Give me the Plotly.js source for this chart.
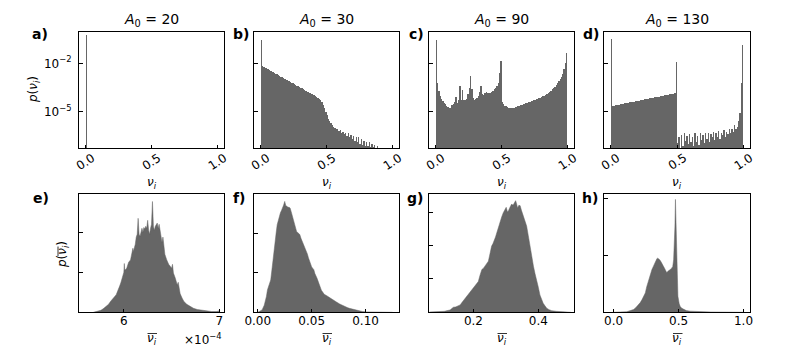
<!DOCTYPE html>
<html>
<head>
<meta charset="utf-8">
<script src="https://cdn.plot.ly/plotly-3.0.1.min.js"></script>
<style>html,body{margin:0;padding:0;background:#fff}</style>
</head>
<body>
<div id="plot" style="width:789px;height:351px"></div>
<script>
// Top row: histograms of nu_i, 100 bins on [0, 1], values are log10 p (null = empty bin)
const topBinWidth = 0.01;
const aLog = [-0.24];
const bLog = [
  -0.55, -2.17, -2.22, -2.26, -2.31, -2.36, -2.40, -2.45, -2.50, -2.54,
  -2.59, -2.64, -2.68, -2.73, -2.78, -2.82, -2.87, -2.91, -2.96, -3.01,
  -3.05, -3.10, -3.15, -3.19, -3.24, -3.29, -3.33, -3.38, -3.42, -3.47,
  -3.52, -3.56, -3.61, -3.66, -3.70, -3.75, -3.80, -3.84, -3.89, -3.93,
  -3.98, -4.03, -4.07, -4.12, -4.19, -4.28, -4.40, -4.58, -4.80, -5.02,
  -5.20, -5.45, -5.58, -5.72, -5.85, -5.92, -6.00, -6.05, -6.10, -6.20,
  -6.15, -6.30, -6.25, -6.40, -6.30, -6.50, -6.35, -6.60, -6.45, -6.70,
  -6.50, -6.80, -6.55, -6.90, -6.60, -7.00, -6.70, -7.05, -6.80, -7.10,
  -6.85, -7.15, -6.90, -7.20, -7.00, -7.20, -7.05, null, -7.15, null,
  null, null, null, null, null, null, null, null, null, null
];
const cLog = [
  -0.55, -3.20, -3.70, -4.00, -4.20, -4.35, -4.45, -4.55, -4.62, -4.70,
  -4.78, -4.75, -4.60, -4.50, -4.40, -4.07, -4.45, -4.30, -3.41, -4.30,
  -3.66, -4.30, -4.25, -4.20, -3.90, -3.50, -2.79, -3.60, -4.15, -4.25,
  -4.20, -4.15, -4.00, -3.80, -3.41, -3.90, -3.95, -3.85, -3.76, -3.85,
  -3.82, -3.86, -3.80, -3.70, -3.60, -3.50, -3.40, -3.25, -2.60, -1.86,
  -4.40, -4.55, -4.62, -4.67, -4.71, -4.74, -4.77, -4.79, -4.77, -4.75,
  -4.72, -4.70, -4.67, -4.64, -4.61, -4.58, -4.55, -4.50, -4.48, -4.45,
  -4.42, -4.39, -4.36, -4.33, -4.30, -4.27, -4.24, -4.20, -4.17, -4.13,
  -4.09, -4.05, -4.00, -3.95, -3.90, -3.84, -3.78, -3.70, -3.62, -3.54,
  -3.45, -3.35, -3.24, -3.12, -3.00, -2.85, -2.65, -2.35, -2.00, -1.38
];
const dLog = [
  -0.51, -4.64, -4.62, -4.61, -4.59, -4.57, -4.56, -4.54, -4.52, -4.51,
  -4.49, -4.47, -4.46, -4.44, -4.42, -4.41, -4.39, -4.37, -4.36, -4.34,
  -4.32, -4.31, -4.29, -4.27, -4.26, -4.24, -4.22, -4.21, -4.19, -4.17,
  -4.16, -4.14, -4.12, -4.11, -4.09, -4.07, -4.06, -4.04, -4.02, -4.01,
  -3.99, -3.97, -3.96, -3.94, -3.92, -3.91, -3.89, -3.88, -3.86, -1.90,
  -6.95, -6.60, null, -6.45, -7.10, -6.35, -6.80, -6.50, -7.00, -6.40,
  -6.90, -6.55, -7.15, -6.30, -6.85, -6.50, -7.05, -6.30, -6.75, -6.45,
  -6.95, -6.35, -6.70, -6.30, -6.85, -6.40, -6.60, -6.25, -6.75, -6.35,
  -6.55, -6.20, -6.70, -6.30, -6.45, -6.15, -6.60, -6.25, -6.40, -6.10,
  -6.30, -6.05, -6.25, -5.85, -6.10, -5.95, -5.60, -5.05, -3.20, -0.86
];

// Bottom row: histograms of the mean nu_i (x, p)
const eX = [5.68, 5.72, 5.76, 5.79, 5.82, 5.84, 5.86, 5.88, 5.90, 5.92, 5.93, 5.95, 5.96, 5.97, 5.98, 5.99, 6.00, 6.005, 6.01, 6.03, 6.05, 6.07, 6.08, 6.09, 6.095, 6.10, 6.12, 6.13, 6.14, 6.15, 6.16, 6.17, 6.18, 6.19, 6.20, 6.21, 6.22, 6.23, 6.24, 6.25, 6.26, 6.27, 6.28, 6.29, 6.30, 6.31, 6.32, 6.33, 6.35, 6.36, 6.37, 6.38, 6.39, 6.40, 6.41, 6.42, 6.43, 6.45, 6.47, 6.49, 6.50, 6.51, 6.52, 6.54, 6.56, 6.57, 6.58, 6.59, 6.61, 6.63, 6.66, 6.70, 6.73, 6.77, 6.82, 6.87, 6.92, 6.98, 6.99, 7.00];
const eY = [0, 0.02, 0.05, 0.10, 0.16, 0.20, 0.27, 0.33, 0.38, 0.44, 0.50, 0.60, 0.68, 0.75, 0.85, 0.95, 1.00, 1.22, 1.05, 1.10, 1.25, 1.31, 1.40, 1.50, 1.60, 1.52, 1.70, 1.88, 1.95, 2.35, 1.95, 1.90, 2.05, 2.10, 2.00, 2.12, 2.08, 2.15, 2.10, 2.30, 2.05, 1.95, 2.10, 2.20, 2.77, 2.15, 2.05, 2.15, 2.23, 2.10, 2.20, 2.00, 1.95, 1.75, 1.88, 1.56, 1.45, 1.31, 1.20, 1.14, 1.10, 1.20, 0.98, 0.85, 0.68, 0.75, 0.55, 0.47, 0.36, 0.27, 0.20, 0.14, 0.10, 0.07, 0.05, 0.03, 0.02, 0.02, 0.04, 0];

const fX = [0.000, 0.002, 0.004, 0.006, 0.007, 0.008, 0.009, 0.010, 0.011, 0.012, 0.013, 0.014, 0.015, 0.016, 0.017, 0.018, 0.019, 0.020, 0.021, 0.022, 0.023, 0.024, 0.025, 0.026, 0.027, 0.028, 0.029, 0.030, 0.031, 0.032, 0.033, 0.034, 0.035, 0.036, 0.037, 0.038, 0.039, 0.040, 0.041, 0.042, 0.043, 0.044, 0.045, 0.046, 0.047, 0.048, 0.049, 0.050, 0.052, 0.053, 0.055, 0.056, 0.058, 0.059, 0.061, 0.062, 0.064, 0.066, 0.067, 0.069, 0.071, 0.073, 0.076, 0.078, 0.081, 0.083, 0.085, 0.088, 0.090, 0.092, 0.094, 0.097, 0.101, 0.106, 0.110, 0.125];
const fY = [0, 0.2, 0.6, 1.8, 2.7, 4.0, 5.7, 6.6, 7.5, 8.2, 10.5, 13.3, 15.5, 17.5, 20.0, 22.2, 23.5, 24.5, 25.2, 25.8, 26.4, 27.2, 28.1, 27.0, 26.9, 26.6, 26.6, 26.4, 25.5, 24.5, 23.5, 22.5, 21.2, 20.5, 20.2, 19.9, 19.7, 18.8, 18.2, 17.5, 16.8, 16.2, 15.4, 14.8, 13.8, 12.9, 12.2, 11.5, 10.8, 9.8, 8.6, 7.8, 6.5, 5.6, 4.8, 4.5, 4.2, 3.8, 3.6, 3.3, 3.0, 2.6, 2.1, 1.8, 1.4, 1.2, 1.0, 0.8, 0.6, 0.45, 0.3, 0.2, 0.1, 0.05, 0, 0];

const gX = [0.065, 0.090, 0.110, 0.128, 0.133, 0.138, 0.145, 0.152, 0.159, 0.165, 0.170, 0.174, 0.180, 0.185, 0.190, 0.195, 0.200, 0.205, 0.210, 0.215, 0.220, 0.226, 0.231, 0.236, 0.241, 0.246, 0.251, 0.256, 0.260, 0.264, 0.268, 0.272, 0.277, 0.282, 0.287, 0.292, 0.297, 0.301, 0.305, 0.308, 0.313, 0.318, 0.322, 0.326, 0.330, 0.333, 0.336, 0.340, 0.344, 0.348, 0.354, 0.359, 0.364, 0.369, 0.374, 0.380, 0.385, 0.390, 0.395, 0.400, 0.405, 0.410, 0.415, 0.420, 0.426, 0.433, 0.441, 0.455, 0.467, 0.490, 0.500];
const gY = [0.02, 0.04, 0.06, 0.14, 0.24, 0.30, 0.32, 0.40, 0.44, 0.60, 0.72, 0.84, 1.00, 1.10, 1.24, 1.32, 1.44, 1.56, 1.70, 1.84, 2.20, 2.56, 2.64, 2.76, 2.90, 3.06, 3.50, 3.96, 4.10, 4.26, 4.50, 4.76, 5.10, 5.46, 5.70, 5.96, 6.10, 6.28, 6.00, 6.08, 6.30, 6.48, 6.40, 6.60, 6.68, 6.50, 6.24, 6.40, 6.38, 6.10, 5.76, 5.50, 5.16, 4.60, 3.96, 3.30, 2.76, 2.30, 1.94, 1.50, 1.04, 0.76, 0.54, 0.40, 0.24, 0.16, 0.10, 0.06, 0.04, 0.02, 0];

const hX = [0.000, 0.050, 0.100, 0.130, 0.154, 0.170, 0.190, 0.205, 0.218, 0.230, 0.244, 0.255, 0.270, 0.280, 0.295, 0.305, 0.313, 0.323, 0.333, 0.340, 0.346, 0.355, 0.364, 0.375, 0.385, 0.395, 0.403, 0.410, 0.418, 0.427, 0.436, 0.445, 0.455, 0.462, 0.468, 0.472, 0.476, 0.480, 0.485, 0.490, 0.495, 0.505, 0.513, 0.525, 0.538, 0.560, 0.590, 0.650, 0.750, 1.000];
const hY = [0, 0.025, 0.05, 0.15, 0.25, 0.40, 0.65, 0.85, 1.10, 1.40, 1.70, 2.25, 2.85, 3.25, 3.75, 4.00, 4.20, 4.50, 4.70, 4.75, 4.70, 4.60, 4.45, 4.25, 4.05, 3.80, 3.60, 3.50, 3.60, 3.65, 3.75, 3.85, 4.00, 4.60, 6.00, 7.50, 9.90, 8.00, 5.50, 2.50, 1.40, 0.75, 0.50, 0.35, 0.25, 0.15, 0.10, 0.05, 0.025, 0];

const titles = ['20', '30', '90', '130'];
const panelLetters = [['a)', 'b)', 'c)', 'd)'], ['e)', 'f)', 'g)', 'h)']];

const W = 789, H = 351;
const grey = 'rgb(102,102,102)';
const font = 'DejaVu Sans';
const px = (v) => v / W;
const py = (v) => 1 - v / H;

const colsPx = [[79, 224], [254, 399], [429, 574], [604, 750]];
const rowTop = [py(148.3), py(31.7)];
const rowBottom = [py(312.3), py(194.3)];

function baseAxis(domain, anchor) {
  return {
    domain: domain, anchor: anchor,
    showline: true, mirror: true, linecolor: 'black', linewidth: 1,
    ticks: 'inside', ticklen: 3.5, tickwidth: 1, tickcolor: 'black',
    showgrid: false, zeroline: false,
    tickfont: { family: font, size: 12, color: 'black' }
  };
}

const toP = (v) => (v === null ? null : Math.pow(10, v));
const topLogs = [aLog, bLog, cLog, dLog];
const traces = [];
const layout = {
  width: W, height: H,
  margin: { l: 0, r: 0, t: 0, b: 0 },
  paper_bgcolor: 'white', plot_bgcolor: 'white',
  showlegend: false, bargap: 0,
  annotations: [], shapes: []
};

// top row
topLogs.forEach((logs, i) => {
  const n = i + 1;
  const sfx = n === 1 ? '' : String(n);
  const xs = logs.map((_, k) => (k + 0.5) * topBinWidth);
  traces.push({
    type: 'bar', x: xs, y: logs.map(toP), width: topBinWidth,
    marker: { color: grey, line: { width: 0 } },
    xaxis: 'x' + sfx, yaxis: 'y' + sfx, hoverinfo: 'skip'
  });
  const xa = baseAxis([px(colsPx[i][0]), px(colsPx[i][1])], 'y' + sfx);
  xa.range = [-0.05, 1.05];
  xa.tickvals = [0, 0.5, 1];
  xa.showticklabels = false;
  const ya = baseAxis([rowTop[0], rowTop[1]], 'x' + sfx);
  ya.type = 'log';
  ya.range = [-7.27, -0.04];
  ya.tickvals = [1e-2, 1e-5];
  ya.ticktext = ['10<sup>\u22122</sup>', '10<sup>\u22125</sup>'];
  ya.showticklabels = (i === 0);
  ya.ticklabelstandoff = 4;
  layout['xaxis' + sfx] = xa;
  layout['yaxis' + sfx] = ya;

  // rotated tick labels
  ['0.0', '0.5', '1.0'].forEach((t, j) => {
    layout.annotations.push({
      xref: 'x' + sfx, yref: 'paper',
      x: [0, 0.5, 1][j], y: py(162), text: t, showarrow: false,
      textangle: -33, xanchor: 'center', yanchor: 'middle',
      font: { family: font, size: 12, color: 'black' }
    });
  });
  // panel title
  layout.annotations.push({
    xref: 'paper', yref: 'paper', x: px((colsPx[i][0] + colsPx[i][1]) / 2), y: py(20),
    text: '<i>A</i><sub>0</sub> = ' + titles[i], showarrow: false,
    xanchor: 'center', yanchor: 'middle', font: { family: font, size: 14, color: 'black' }
  });
  // x title
  layout.annotations.push({
    xref: 'paper', yref: 'paper', x: px((colsPx[i][0] + colsPx[i][1]) / 2), y: py(183),
    text: '<i>\u03bd<sub>i</sub></i>', showarrow: false,
    xanchor: 'center', yanchor: 'middle', font: { family: font, size: 12, color: 'black' }
  });
});

// bottom row
const botX = [eX, fX, gX, hX];
const botY = [eY, fY, gY, hY];
const botRanges = [[5.53, 7.05], [-0.0035, 0.131], [0.063, 0.51], [-0.074, 1.05]];
const botYRanges = [[0, 2.95], [0, 29.9], [0, 7.06], [0, 10.35]];
const botTicks = [[6, 7], [0, 0.05, 0.1], [0.2, 0.4], [0, 0.5, 1]];
const botTickText = [['6', '7'], ['0.00', '0.05', '0.10'], ['0.2', '0.4'], ['0.0', '0.5', '1.0']];
const botYTicks = [[1, 2], [10, 20], [2, 4, 6], [5, 10]];

for (let i = 0; i < 4; i++) {
  const n = i + 5;
  traces.push({
    type: 'scatter', mode: 'lines', x: botX[i], y: botY[i],
    fill: 'tozeroy', fillcolor: grey, line: { color: grey, width: 0.5 },
    xaxis: 'x' + n, yaxis: 'y' + n, hoverinfo: 'skip'
  });
  const xa = baseAxis([px(colsPx[i][0]), px(colsPx[i][1])], 'y' + n);
  xa.range = botRanges[i];
  xa.tickvals = botTicks[i];
  xa.ticktext = botTickText[i];
  xa.ticklabelstandoff = -3;
  const ya = baseAxis([rowBottom[0], rowBottom[1]], 'x' + n);
  ya.range = botYRanges[i];
  ya.tickvals = botYTicks[i];
  ya.showticklabels = false;
  layout['xaxis' + n] = xa;
  layout['yaxis' + n] = ya;

  // x title with an overline over nu_i
  const cx = (colsPx[i][0] + colsPx[i][1]) / 2;
  layout.annotations.push({
    xref: 'paper', yref: 'paper', x: px(cx), y: py(338.5),
    text: '<i>\u03bd<sub>i</sub></i>', showarrow: false,
    xanchor: 'center', yanchor: 'middle', font: { family: font, size: 12, color: 'black' }
  });
  layout.shapes.push({
    type: 'line', xref: 'paper', yref: 'paper',
    x0: px(cx - 4), x1: px(cx + 5.5), y0: py(333.5), y1: py(333.5),
    line: { color: 'black', width: 0.8 }
  });
}

// offset text for panel e
layout.annotations.push({
  xref: 'paper', yref: 'paper', x: px(224), y: py(339), text: '\u00d710<sup>\u22124</sup>',
  showarrow: false, xanchor: 'right', yanchor: 'middle', font: { family: font, size: 12, color: 'black' }
});

// y titles
layout.annotations.push({
  xref: 'paper', yref: 'paper', x: px(34), y: py(90), text: '<i>p</i>(<i>\u03bd<sub>i</sub></i>)',
  showarrow: false, textangle: -90, xanchor: 'center', yanchor: 'middle',
  font: { family: font, size: 12, color: 'black' }
});
layout.annotations.push({
  xref: 'paper', yref: 'paper', x: px(63), y: py(255), text: '<i>p</i>(<i>\u03bd<sub>i</sub></i>)',
  showarrow: false, textangle: -90, xanchor: 'center', yanchor: 'middle',
  font: { family: font, size: 12, color: 'black' }
});
layout.shapes.push({
  type: 'line', xref: 'paper', yref: 'paper',
  x0: px(58), x1: px(58), y0: py(256), y1: py(246.5),
  line: { color: 'black', width: 0.8 }
});

// panel letters
const letterX = [[30, 231, 407, 581], [31, 231, 405, 580]];
const letterY = [34, 197.5];
for (let r = 0; r < 2; r++) {
  for (let c = 0; c < 4; c++) {
    layout.annotations.push({
      xref: 'paper', yref: 'paper', x: px(letterX[r][c]), y: py(letterY[r]),
      text: '<b>' + panelLetters[r][c] + '</b>', showarrow: false,
      xanchor: 'left', yanchor: 'middle', font: { family: font, size: 14, color: 'black' }
    });
  }
}

Plotly.newPlot('plot', traces, layout, { displayModeBar: false, staticPlot: true });
</script>
</body>
</html>
